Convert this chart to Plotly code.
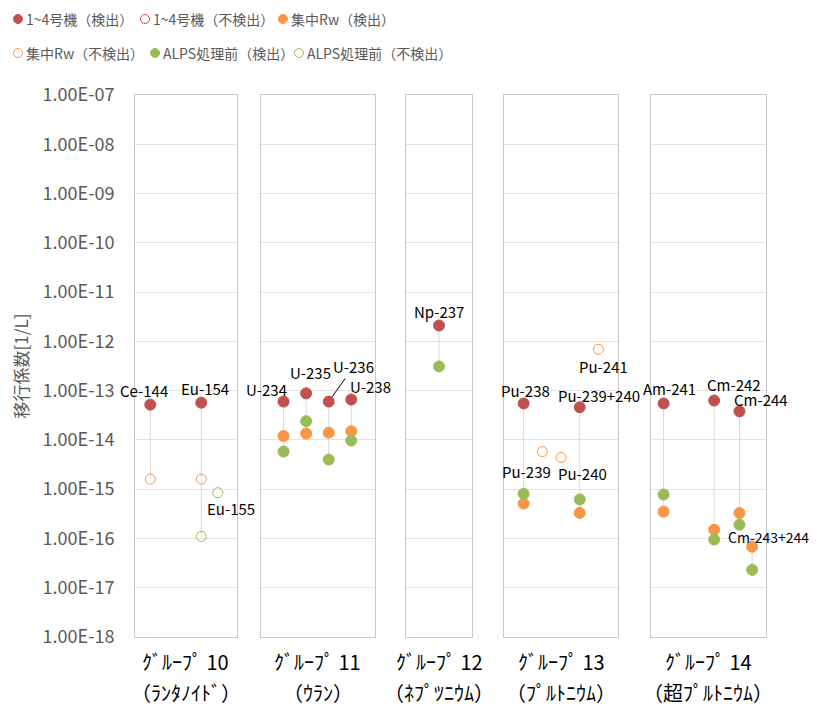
import math
import plotly.graph_objects as go
from plotly.subplots import make_subplots

# ---- data -----------------------------------------------------------
groups = ["ｸﾞﾙｰﾌﾟ 10", "ｸﾞﾙｰﾌﾟ 11", "ｸﾞﾙｰﾌﾟ 12", "ｸﾞﾙｰﾌﾟ 13", "ｸﾞﾙｰﾌﾟ 14"]
group_names = ["（ﾗﾝﾀﾉｲﾄﾞ）", "（ｳﾗﾝ）", "（ﾈﾌﾟﾂﾆｳﾑ）", "（ﾌﾟﾙﾄﾆｳﾑ）", "（超ﾌﾟﾙﾄﾆｳﾑ）"]

nuclides = ["Ce-144", "Eu-154", "Eu-155",
            "U-234", "U-235", "U-236", "U-238",
            "Np-237",
            "Pu-238", "Pu-239", "Pu-240", "Pu-239+240", "Pu-241",
            "Am-241", "Cm-242", "Cm-244", "Cm-243+244"]
group_idx = [0, 0, 0, 1, 1, 1, 1, 2, 3, 3, 3, 3, 3, 4, 4, 4, 4]
x_slot = [1, 3, 3.65, 1, 2, 3, 4, 1, 1, 2, 3, 4, 5, 1, 3, 4, 4.5]

N = None
unit_det = [5.2e-14, 5.7e-14, N, 6.0e-14, 8.8e-14, 6.0e-14, 6.6e-14, 2.1e-12,
            5.5e-14, N, N, 4.6e-14, N, 5.5e-14, 6.3e-14, 3.8e-14, N]
unit_nd = [N] * 17
rw_det = [N, N, N, 1.2e-14, 1.35e-14, 1.4e-14, 1.5e-14, N,
          5.1e-16, N, N, 3.3e-16, N, 3.5e-16, 1.5e-16, 3.3e-16, 6.8e-17]
rw_nd = [1.6e-15, 1.6e-15, N, N, N, N, N, N,
         N, 5.8e-15, 4.4e-15, N, 6.9e-13, N, N, N, N]
alps_det = [N, N, N, 5.8e-15, 2.4e-14, 4.0e-15, 9.7e-15, 3.1e-13,
            8.1e-16, N, N, 6.2e-16, N, 7.8e-16, 9.5e-17, 1.9e-16, 2.3e-17]
alps_nd = [N, 1.1e-16, 8.5e-16, N, N, N, N, N,
           N, N, N, N, N, N, N, N, N]

tick_exps = list(range(-7, -19, -1))
tick_text = ["1.00E-%02d" % (-e) for e in tick_exps]

# ---- styling --------------------------------------------------------
RED, ORANGE, GREEN = "#c0504d", "#f79646", "#9bbb59"
FONT = "Noto Sans CJK JP"
series = [
    ("1~4号機（検出）", unit_det, RED, True),
    ("1~4号機（不検出）", unit_nd, RED, False),
    ("集中Rw（検出）", rw_det, ORANGE, True),
    ("集中Rw（不検出）", rw_nd, ORANGE, False),
    ("ALPS処理前（検出）", alps_det, GREEN, True),
    ("ALPS処理前（不検出）", alps_nd, GREEN, False),
]

# page body has an 8px margin, so the figure is sized to fit the window
OFF = 8
W, H = 818 - OFF, 708 - OFF
ML, MT = 135 - OFF, 95 - OFF
PW, PH = 766 - 135, 637 - 95
MR, MB = W - ML - PW, H - MT - PH

def px_x(px):
    return (px - OFF - ML) / PW

def px_y(py):
    return (MT + PH - (py - OFF)) / PH

domains = [[0.0, 0.1616], [0.1997, 0.3803], [0.4295, 0.5341],
           [0.5848, 0.7655], [0.8177, 1.0]]
x_ranges = [[0.4, 4.4], [0.0, 5.05], [0.0, 2.0], [-0.05, 6.05], [0.5, 5.05]]

# legend item positions in window pixels (marker x, row y)
legend_pos = [(18, 19), (145, 19), (283, 19), (18, 53), (155, 53), (299, 53)]

# label offsets in pixels (xshift, yshift) from anchor point
label_shift = {
    "Ce-144": (-6, 14), "Eu-154": (4, 14), "Eu-155": (13, -16),
    "U-234": (-17, 12), "U-235": (4, 21), "U-238": (19, 13),
    "Np-237": (0, 14), "Pu-238": (2, 13), "Pu-239": (-16, -20),
    "Pu-240": (21, -16), "Pu-239+240": (19, 12), "Pu-241": (5, -17),
    "Am-241": (6, 15), "Cm-242": (20, 16), "Cm-244": (22, 12),
    "Cm-243+244": (16, 10),
}

fig = make_subplots(rows=1, cols=5, shared_yaxes=True)

# connector lines between values of the same nuclide
for i, nuc in enumerate(nuclides):
    vals = [s[1][i] for s in series if s[1][i] is not None]
    if len(vals) > 1:
        fig.add_trace(go.Scatter(
            x=[x_slot[i], x_slot[i]], y=[max(vals), min(vals)], mode="lines",
            line=dict(color="#d9d9d9", width=1), showlegend=False,
            hoverinfo="skip"), row=1, col=group_idx[i] + 1)

# markers per group
for name, vals, color, filled in series:
    for g in range(5):
        xs = [x_slot[i] for i in range(len(nuclides))
              if group_idx[i] == g and vals[i] is not None]
        ys = [vals[i] for i in range(len(nuclides))
              if group_idx[i] == g and vals[i] is not None]
        if not xs:
            continue
        fig.add_trace(go.Scatter(
            x=xs, y=ys, mode="markers", name=name, showlegend=False,
            marker=dict(symbol="circle" if filled else "circle-open",
                        size=11 if filled else 10, color=color,
                        line=dict(width=1, color=color))),
            row=1, col=g + 1)

# legend drawn at top (two rows)
for (name, vals, color, filled), (lx, ly) in zip(series, legend_pos):
    fig.add_shape(type="circle", xref="paper", yref="paper",
                  xsizemode="pixel", ysizemode="pixel",
                  xanchor=px_x(lx), yanchor=px_y(ly),
                  x0=-4.5, x1=4.5, y0=-4.5, y1=4.5,
                  fillcolor=color if filled else "white",
                  line=dict(color=color, width=1))
    fig.add_annotation(x=px_x(lx + 6), y=px_y(ly), xref="paper", yref="paper",
                       text=name, showarrow=False, xanchor="left",
                       yanchor="middle",
                       font=dict(family=FONT, size=14, color="#595959"))

# nuclide labels
for i, nuc in enumerate(nuclides):
    vals = [s[1][i] for s in series if s[1][i] is not None]
    anchor = unit_det[i] if unit_det[i] is not None else max(vals)
    xa = "x" if group_idx[i] == 0 else "x%d" % (group_idx[i] + 1)
    ya = "y" if group_idx[i] == 0 else "y%d" % (group_idx[i] + 1)
    if nuc == "U-236":
        fig.add_annotation(x=x_slot[i], y=math.log10(anchor),
                           xref=xa, yref=ya, text=nuc, showarrow=True,
                           arrowhead=0, arrowwidth=1, arrowcolor="#000",
                           ax=25, ay=-35, standoff=6,
                           font=dict(family=FONT, size=15, color="#000"))
        continue
    dx, dy = label_shift[nuc]
    fig.add_annotation(x=x_slot[i], y=math.log10(anchor),
                       xref=xa, yref=ya, text=nuc, showarrow=False,
                       xshift=dx, yshift=dy,
                       font=dict(family=FONT, size=15 if nuc != "Cm-243+244" else 14,
                                 color="#000"))

# group labels under panels
for g in range(5):
    xa = "x" if g == 0 else "x%d" % (g + 1)
    fig.add_annotation(x=0.5, xref=xa + " domain", y=px_y(661), yref="paper",
                       text=groups[g], showarrow=False, yanchor="middle",
                       font=dict(family=FONT, size=20, color="#000"))
    fig.add_annotation(x=0.5, xref=xa + " domain", y=px_y(692), yref="paper",
                       text=group_names[g], showarrow=False, yanchor="middle",
                       font=dict(family=FONT, size=20, color="#000"))

for g in range(5):
    fig.update_xaxes(domain=domains[g], range=x_ranges[g], showgrid=False,
                     zeroline=False, showticklabels=False, ticks="",
                     showline=True, linecolor="#c8c8c8", linewidth=1,
                     mirror=True, row=1, col=g + 1)
    fig.update_yaxes(type="log", range=[-18, -7],
                     tickvals=[10.0 ** e for e in tick_exps],
                     showgrid=True, gridcolor="#e3e3e3", gridwidth=1,
                     zeroline=False, showline=True, linecolor="#c8c8c8",
                     linewidth=1, mirror=True, row=1, col=g + 1)

fig.update_yaxes(ticktext=tick_text, ticklabelstandoff=16,
                 tickfont=dict(family=FONT, size=18, color="#595959"),
                 title=dict(text="移行係数[1/L]", standoff=10,
                            font=dict(family=FONT, size=17, color="#595959")),
                 row=1, col=1)

fig.update_layout(
    width=W, height=H,
    margin=dict(l=ML, r=MR, t=MT, b=MB, autoexpand=False),
    paper_bgcolor="white", plot_bgcolor="white",
    font=dict(family=FONT),
    showlegend=False,
)

fig.write_html("out.html")
